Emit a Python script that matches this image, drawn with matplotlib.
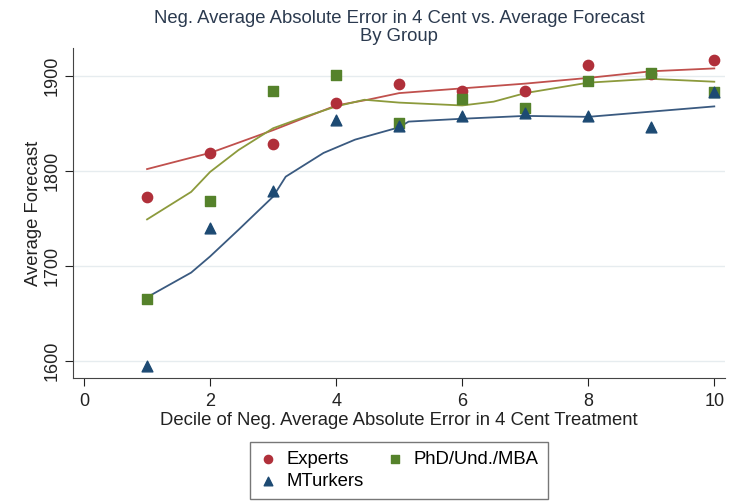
import matplotlib
matplotlib.use("Agg")
import matplotlib.pyplot as plt

plt.rcParams['font.family'] = ['Liberation Sans', 'DejaVu Sans']

deciles = [1, 2, 3, 4, 5, 6, 7, 8, 9, 10]
experts = [1773, 1819, 1828, 1872, 1892, 1884, 1884, 1912, 1902, 1917]
phd = [1665, 1768, 1884, 1901, 1851, 1876, 1866, 1895, 1903, 1883]
mturk = [1595, 1740, 1779, 1854, 1847, 1858, 1861, 1858, 1846, 1883]

exp_fit_x = [1, 1.7, 2, 3, 3.5, 4, 4.5, 5, 6, 7, 8, 9, 10]
exp_fit_y = [1802, 1814, 1819, 1843, 1856, 1869, 1875, 1882, 1887, 1892, 1898, 1905, 1908]
phd_fit_x = [1, 1.7, 2, 2.45, 3, 3.5, 4, 4.45, 5, 6, 6.5, 7, 8, 9, 10]
phd_fit_y = [1749, 1778, 1799, 1822, 1845, 1857, 1868, 1875, 1872, 1869, 1873, 1882, 1893, 1897, 1894]
mt_fit_x = [1, 1.7, 2, 2.45, 3, 3.2, 3.8, 4.3, 5, 5.15, 6, 7, 8, 10]
mt_fit_y = [1667, 1693, 1710, 1738, 1773, 1794, 1819, 1833, 1846, 1852, 1855, 1858, 1857, 1868]

xticks = [0, 2, 4, 6, 8, 10]
yticks = [1600, 1700, 1800, 1900]

fig = plt.figure(figsize=(7.32, 5.01), dpi=100)
ax = fig.add_axes([73/732, 1-378/501, (725-73)/732, (378-48)/501])

c_exp, c_phd, c_mt = '#b0303a', '#55822b', '#1d4a73'
ax.plot(exp_fit_x, exp_fit_y, color='#c0504d', lw=1.3, zorder=2)
ax.plot(phd_fit_x, phd_fit_y, color='#8c9a3c', lw=1.3, zorder=2)
ax.plot(mt_fit_x, mt_fit_y, color='#3a5a80', lw=1.3, zorder=2)

h1 = ax.scatter(deciles, experts, s=55, marker='o', color=c_exp, zorder=3, label='Experts')
h3 = ax.scatter(deciles, phd, s=55, marker='s', color=c_phd, zorder=3, label='PhD/Und./MBA')
h2 = ax.scatter(deciles, mturk, s=60, marker='^', color=c_mt, zorder=3, label='MTurkers')

ax.set_xlim(-0.175, 10.17)
ax.set_ylim(1582, 1929.5)
ax.set_xticks(xticks)
ax.set_yticks(yticks)
ax.set_yticklabels([str(v) for v in yticks], rotation=90, va='center')
ax.grid(axis='y', color='#e6ecef', lw=1.0)
ax.set_axisbelow(True)
for s in ['top', 'right']:
    ax.spines[s].set_visible(False)
for s in ['left', 'bottom']:
    ax.spines[s].set_color('#444444')
ax.tick_params(colors='#222222', labelsize=13, length=6)
ax.tick_params(axis='x', pad=5)
ax.tick_params(axis='y', pad=3)

ax.set_xlabel('Decile of Neg. Average Absolute Error in 4 Cent Treatment', fontsize=13.3, color='#222222', labelpad=1)
ax.set_ylabel('Average Forecast', fontsize=13.3, color='#222222', labelpad=1)
ax.set_title('Neg. Average Absolute Error in 4 Cent vs. Average Forecast\nBy Group', fontsize=13.3, color='#2b3a4f', linespacing=1.05, pad=5)

leg = fig.legend(handles=[h1, h2, h3], labels=['Experts', 'MTurkers', 'PhD/Und./MBA'],
                 ncol=2, loc='upper center', bbox_to_anchor=(399/732, 1-442/501),
                 borderaxespad=0,
                 fontsize=13.3, frameon=True, fancybox=False, edgecolor='#555555',
                 handletextpad=0.5, columnspacing=1.2, labelspacing=0.25,
                 markerscale=0.8, borderpad=0.5, handlelength=1.0)
leg.get_frame().set_linewidth(1.0)

fig.savefig('out.png', dpi=100)
